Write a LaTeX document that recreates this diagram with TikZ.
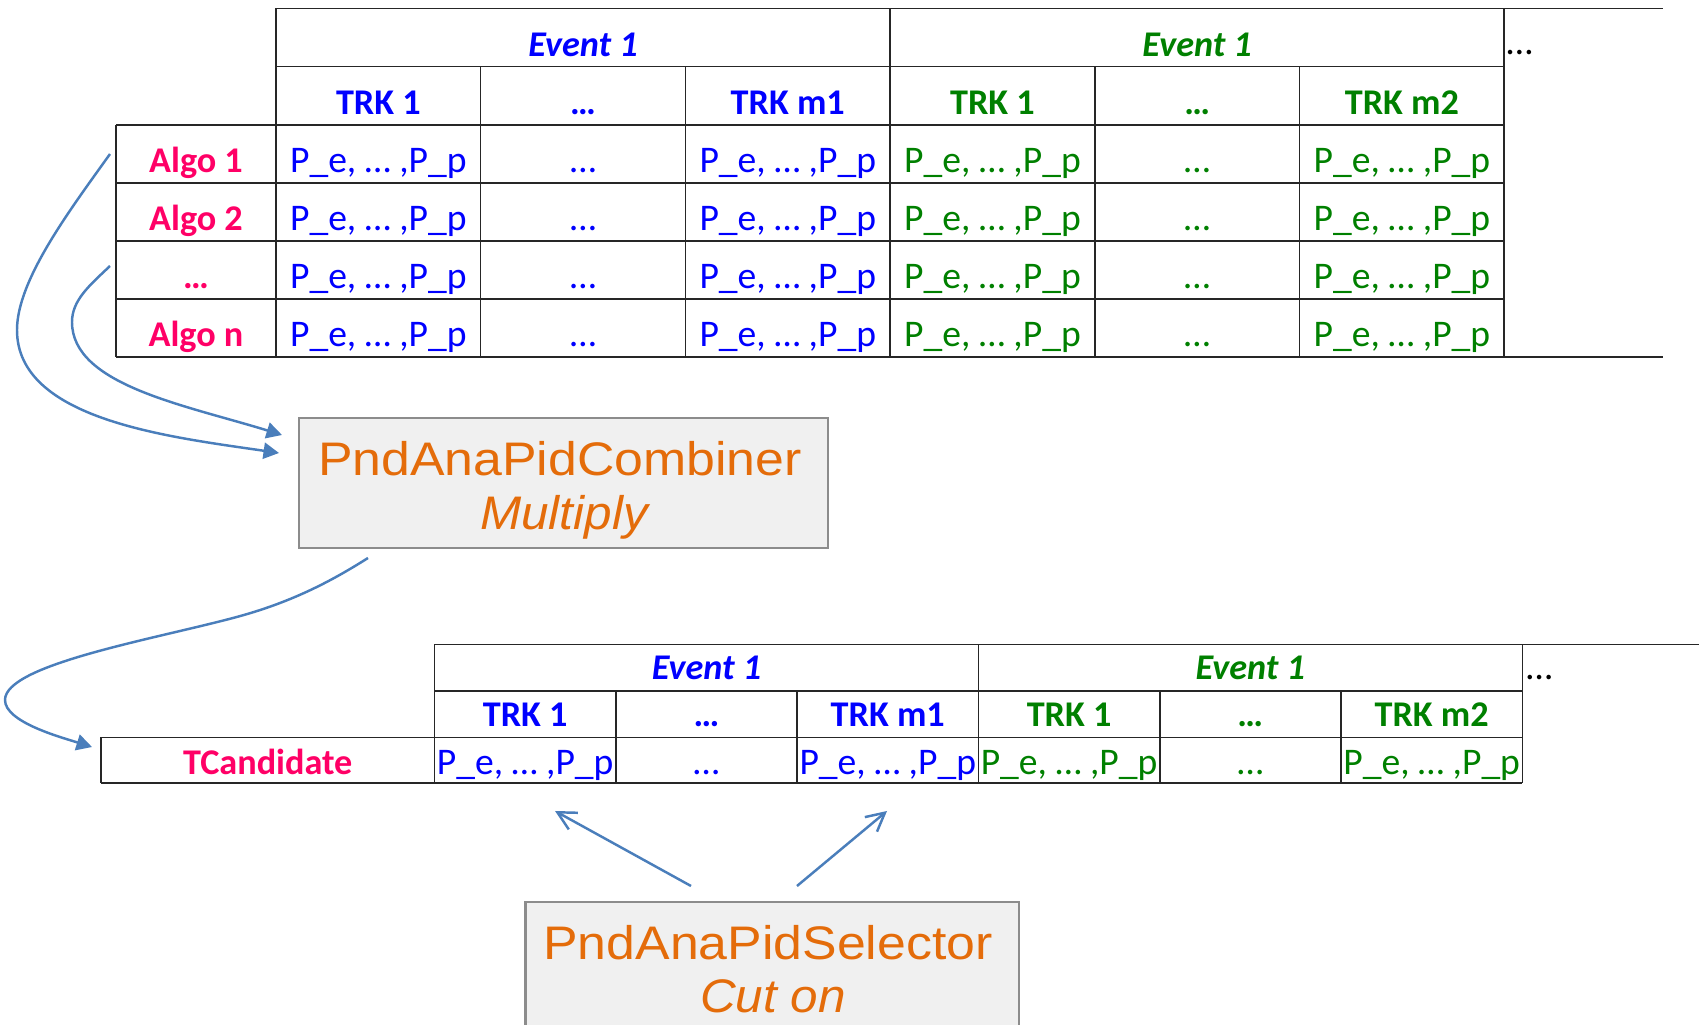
\documentclass[tikz,border=0pt]{standalone}
\usepackage{fontspec}
\setmainfont{Carlito}
\newfontfamily\boxfont[FakeStretch=1.10]{Liberation Sans}
\newfontfamily\boxitfont[FakeStretch=1.05]{Liberation Sans Italic}
\usetikzlibrary{arrows.meta}

\definecolor{evblue}{HTML}{0000FF}
\definecolor{evgreen}{HTML}{008000}
\definecolor{algored}{HTML}{FF0066}
\definecolor{flow}{HTML}{4A7EBB}
\definecolor{boxorange}{HTML}{E46C0A}
\definecolor{boxfill}{HTML}{F0F0F0}
\definecolor{boxline}{HTML}{8C8C8C}

\tikzset{
  grid/.style={draw=black!85, line width=0.45pt},
  cell/.style={anchor=base, inner sep=0pt, font=\fontsize{10.7}{12}\selectfont},
  hdr/.style={anchor=base, inner sep=0pt, font=\fontsize{10.3}{12}\selectfont\bfseries},
  evt/.style={anchor=base, inner sep=0pt, font=\fontsize{10.3}{12}\selectfont\bfseries\itshape},
  procbox/.style={draw=boxline, fill=boxfill, line width=0.6pt, anchor=north west, inner sep=0pt},
  proctitle/.style={anchor=base, inner sep=0pt, text=boxorange, font=\boxfont\fontsize{13.4}{16}\selectfont},
  procmode/.style={anchor=base, inner sep=0pt, text=boxorange, font=\boxitfont\fontsize{13.4}{16}\selectfont},
  flowarrow/.style={draw=flow, line width=0.7pt, -{Triangle[length=4.4pt,width=4.6pt]}},
  pickarrow/.style={draw=flow, line width=0.7pt, -{Straight Barb[length=5.2pt,width=5.4pt]}},
}

\begin{document}
\begin{tikzpicture}[x=0.1mm, y=-0.1mm]
\useasboundingbox (0,0) rectangle (1699,1025);
\clip (0,0) rectangle (1699,1025);

% ---------------- upper table: one row per algorithm ----------------
\draw[grid] (276,8.5) -- (1663,8.5);
\draw[grid] (276,66.7) -- (1504.2,66.7);
\foreach \y in {124.9,183,241,299} \draw[grid] (116,\y) -- (1504.2,\y);
\draw[grid] (116,357) -- (1663,357);
\draw[grid] (116,124.9) -- (116,357);
\foreach \x in {276,890.1,1504.2} \draw[grid] (\x,8.5) -- (\x,357);
\foreach \x in {480.7,685.4,1094.8,1299.5} \draw[grid] (\x,66.7) -- (\x,357);

\node[evt, text=evblue]  (ev1) at (583.05,56.7) {Event 1};
\node[evt, text=evgreen] (ev2) at (1197.15,56.7) {Event 1};
\node[cell, anchor=base west] (moreev) at (1506,55) {…};

\node[hdr, text=evblue]  (ta1) at (378.35,114.9) {TRK 1};
\node[hdr, text=evblue]  (ta2) at (583.05,114.9) {…};
\node[hdr, text=evblue]  (ta3) at (787.75,114.9) {TRK m1};
\node[hdr, text=evgreen] (tb1) at (992.45,114.9) {TRK 1};
\node[hdr, text=evgreen] (tb2) at (1197.15,114.9) {…};
\node[hdr, text=evgreen] (tb3) at (1401.85,114.9) {TRK m2};

\foreach \lab/\y [count=\i] in {Algo 1/173, Algo 2/231, …/289, Algo n/347} {
  \node[hdr, text=algored] (algo\i) at (196,\y) {\lab};
  \node[cell, text=evblue]  (p\i a) at (378.35,\y) {P\_e, … ,P\_p};
  \node[cell, text=evblue]  (p\i b) at (583.05,\y) {…};
  \node[cell, text=evblue]  (p\i c) at (787.75,\y) {P\_e, … ,P\_p};
  \node[cell, text=evgreen] (p\i d) at (992.45,\y) {P\_e, … ,P\_p};
  \node[cell, text=evgreen] (p\i e) at (1197.15,\y) {…};
  \node[cell, text=evgreen] (p\i f) at (1401.85,\y) {P\_e, … ,P\_p};
}

% ---------------- combiner ----------------
\node[procbox, minimum width=52.95mm, minimum height=12.99mm] (combiner) at (297.5,416.8) {};
\node[proctitle] (combtitle) at (560,476) {PndAnaPidCombiner};
\node[procmode]  (combmode)  at (564,529.5) {Multiply};

% ---------------- lower table: combined candidate ----------------
\draw[grid] (434.5,644.5) -- (1699,644.5);
\draw[grid] (434.5,691) -- (1522.3,691);
\draw[grid] (101,737.5) -- (1522.3,737.5);
\draw[grid] (101,783) -- (1522.3,783);
\draw[grid] (101,737.5) -- (101,783);
\foreach \x in {434.5,978.4,1522.3} \draw[grid] (\x,644.5) -- (\x,783);
\foreach \x in {615.8,797.1,1159.7,1341} \draw[grid] (\x,691) -- (\x,783);

\node[evt, text=evblue]  (cev1) at (706.45,680) {Event 1};
\node[evt, text=evgreen] (cev2) at (1250.35,680) {Event 1};
\node[cell, anchor=base west] (cmoreev) at (1525.7,680) {…};

\node[hdr, text=evblue]  (ca1) at (525.15,726.5) {TRK 1};
\node[hdr, text=evblue]  (ca2) at (706.45,726.5) {…};
\node[hdr, text=evblue]  (ca3) at (887.75,726.5) {TRK m1};
\node[hdr, text=evgreen] (cb1) at (1069.05,726.5) {TRK 1};
\node[hdr, text=evgreen] (cb2) at (1250.35,726.5) {…};
\node[hdr, text=evgreen] (cb3) at (1431.65,726.5) {TRK m2};

\node[hdr, text=algored] (tcand) at (267.75,775) {TCandidate};
\node[cell, text=evblue]  (q1) at (525.15,775) {P\_e, … ,P\_p};
\node[cell, text=evblue]  (q2) at (706.45,775) {…};
\node[cell, text=evblue]  (q3) at (887.75,775) {P\_e, … ,P\_p};
\node[cell, text=evgreen] (q4) at (1069.05,775) {P\_e, … ,P\_p};
\node[cell, text=evgreen] (q5) at (1250.35,775) {…};
\node[cell, text=evgreen] (q6) at (1431.65,775) {P\_e, … ,P\_p};

% ---------------- selector ----------------
\node[procbox, minimum width=49.36mm, minimum height=20mm] (selector) at (524.4,900.5) {};
\node[proctitle] (seltitle) at (768,959) {PndAnaPidSelector};
\node[procmode]  (selmode)  at (773,1012.5) {Cut on};

% ---------------- connectors ----------------
\coordinate (fromAlgoA) at (110,154);
\coordinate (fromAlgoB) at (110,266);
\coordinate (intoCombA) at (279,453);
\coordinate (intoCombB) at (282,435);
\coordinate (fromComb)  at (368,558);
\coordinate (intoCand)  at (92,747);
\coordinate (selLeft)   at (691,886);
\coordinate (selRight)  at (797,886);
\coordinate (pickA)     at (555,811);
\coordinate (pickB)     at (887,811);

\draw[flowarrow] (fromAlgoA) .. controls (70,210) and (17,280) .. (17,330)
                 .. controls (17,420) and (170,437) .. (intoCombA);
\draw[flowarrow] (fromAlgoB) .. controls (90,285) and (72,300) .. (72,322)
                 .. controls (72,385) and (185,405) .. (intoCombB);
\draw[flowarrow] (fromComb) .. controls (330,582) and (290,603) .. (233,618)
                 .. controls (150,640) and (5,665) .. (5,700)
                 .. controls (5,722) and (60,737) .. (intoCand);
\draw[pickarrow] (selLeft) -- (pickA);
\draw[pickarrow] (selRight) -- (pickB);
\end{tikzpicture}
\end{document}
